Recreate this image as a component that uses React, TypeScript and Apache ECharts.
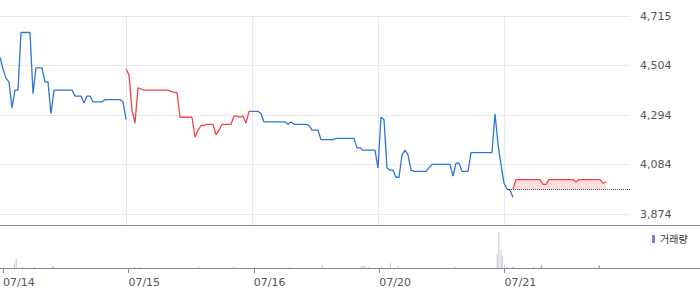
import React, { useEffect, useRef } from "react";
import * as echarts from "echarts";

// ---- data ----
const dayLabels = ["07/14", "07/15", "07/16", "07/20", "07/21"];
const SLOTS = 42; // price samples per trading day
const DAY_MINUTES = 390; // 09:00 - 15:30
const priceMin = 3874;
const priceMax = 4715;
const prevClose = 3980;

const day1 = [4540, 4490, 4450, 4435, 4325, 4400, 4400, 4645, 4645, 4645, 4645, 4385, 4495, 4495, 4495, 4435, 4435, 4300, 4400, 4400, 4400, 4400, 4400, 4400, 4400, 4375, 4375, 4375, 4345, 4375, 4375, 4350, 4350, 4350, 4350, 4360, 4360, 4360, 4360, 4360, 4360, 4350, 4275];
const day2 = [4490, 4465, 4315, 4260, 4410, 4405, 4400, 4400, 4400, 4400, 4400, 4400, 4400, 4400, 4400, 4395, 4390, 4390, 4285, 4285, 4285, 4285, 4285, 4200, 4230, 4250, 4250, 4255, 4255, 4255, 4210, 4230, 4255, 4255, 4255, 4255, 4290, 4290, 4285, 4290, 4260, 4310, 4310];
const day3 = [4310, 4310, 4310, 4300, 4265, 4265, 4265, 4265, 4265, 4265, 4265, 4265, 4255, 4265, 4255, 4255, 4255, 4255, 4255, 4250, 4230, 4230, 4230, 4190, 4190, 4190, 4190, 4190, 4195, 4195, 4195, 4195, 4195, 4195, 4195, 4155, 4155, 4145, 4145, 4145, 4145, 4145];
const day4 = [4070, 4285, 4275, 4070, 4060, 4060, 4030, 4030, 4125, 4145, 4125, 4060, 4055, 4055, 4055, 4055, 4055, 4070, 4085, 4085, 4085, 4085, 4085, 4085, 4085, 4035, 4090, 4090, 4055, 4055, 4055, 4135, 4135, 4135, 4135, 4135, 4135, 4135, 4135, 4300, 4170, 4085];
const day5Blue = [4005, 3980, 3975, 3945];
const day5RedStart = 3;
const day5Red = [3980, 4020, 4020, 4020, 4020, 4020, 4020, 4020, 4020, 4020, 4000, 4000, 4020, 4020, 4020, 4020, 4020, 4020, 4020, 4020, 4020, 4010, 4020, 4020, 4020, 4020, 4020, 4020, 4020, 4020, 4005, 4010];

// volume: [minute of day, shares]
const volDay1 = [[36, 43000], [41, 93000], [60, 13000], [98, 13000], [153, 13000], [157, 23000]];
const volDay2 = [[18, 13000], [35, 13000], [219, 13000], [327, 13000]];
const volDay3 = [[112, 13000], [213, 27000], [334, 17000], [340, 20000], [347, 20000], [357, 13000]];
const volDay4 = [[6, 13000], [35, 47000], [58, 23000], [236, 13000], [367, 143000], [372, 360000], [379, 183000], [383, 123000], [390, 33000]];
const volDay5 = [[8, 10000], [27, 10000], [91, 10000], [114, 27000], [294, 27000]];

const BLUE = "#2f74d8";
const RED = "#f5414b";
const GREY_BAR = "#c4c7cd";
const PURPLE = "#8b79c6";
const GRID = "#e9e9e9";
const AXIS = "#82868d";
const FILL = "#fcdfe1";
const FONT = '"DejaVu Sans", "Noto Sans CJK KR", sans-serif';

const toPts = (arr: number[], d: number, from = 0) =>
  arr.map((v, i) => [d * SLOTS + from + i, v - priceMin]);

export default function App() {
  const ref = useRef<HTMLDivElement>(null);
  useEffect(() => {
    const chart = echarts.init(ref.current!, null, { renderer: "svg" });
    const yInterval = (priceMax - priceMin) / 4;
    const totalX = SLOTS * 5;
    const slotCats = Array.from({ length: totalX + 1 }, (_, i) => String(i));
    const volumeDays = [volDay1, volDay2, volDay3, volDay4, volDay5];
    const volData = volumeDays.flatMap((arr, d) =>
      arr.map(([m, v]) => ({
        value: [d * SLOTS + (m * SLOTS) / DAY_MINUTES, v],
        itemStyle: d < 4 ? { color: GREY_BAR } : { color: PURPLE },
      }))
    );
    const lineCommon = {
      type: "line",
      xAxisIndex: 0,
      yAxisIndex: 0,
      showSymbol: false,
      symbol: "none",
      silent: true,
      emphasis: { disabled: true },
    };
    const redPts = toPts(day5Red, 4, day5RedStart);
    const baseY = prevClose - priceMin;
    chart.setOption({
      animation: false,
      textStyle: { fontFamily: FONT },
      grid: [
        { left: 0, top: 16, width: 630, height: 198 },
        { left: 0, top: 16, width: 630, height: 209 },
        { left: 0, top: 225, width: 630, height: 43 },
      ],
      legend: {
        left: 652,
        top: 234,
        padding: 0,
        itemWidth: 3,
        itemHeight: 8,
        data: [{ name: "거래량", icon: "rect", itemStyle: { color: PURPLE } }],
        textStyle: { fontSize: 10, color: "#333", fontFamily: FONT },
        selectedMode: false,
      },
      xAxis: [
        { gridIndex: 0, type: "category", data: slotCats, boundaryGap: false, show: false },
        {
          gridIndex: 1,
          type: "value",
          min: 0,
          max: totalX,
          interval: SLOTS,
          axisLine: { show: false },
          axisTick: { show: false },
          axisLabel: { show: false },
          splitLine: { show: true, showMinLine: false, showMaxLine: false, lineStyle: { color: GRID } },
        },
        {
          gridIndex: 2,
          type: "value",
          min: 0,
          max: totalX,
          interval: SLOTS,
          axisLine: { show: false },
          axisTick: { show: true, length: 5, lineStyle: { color: AXIS }, customValues: [0, 42, 84, 126, 168] },
          splitLine: { show: false },
          axisLabel: {
            align: "left",
            margin: 9,
            color: "#555",
            fontSize: 11,
            fontFamily: FONT,
            formatter: (v: number) => dayLabels[Math.round(v / SLOTS)] ?? "",
          },
        },
      ],
      yAxis: [
        {
          gridIndex: 0,
          type: "value",
          position: "right",
          min: 0,
          max: priceMax - priceMin,
          interval: yInterval,
          axisLine: { show: false },
          axisTick: { show: false },
          axisLabel: {
            margin: 10,
            color: "#555",
            fontSize: 11,
            fontFamily: FONT,
            formatter: (v: number) => Math.floor(v + priceMin + 1e-6).toLocaleString("en-US"),
          },
          splitLine: { show: true, lineStyle: { color: GRID } },
        },
        { gridIndex: 1, type: "value", show: false },
        { gridIndex: 2, type: "value", min: 0, max: 430000, show: false },
      ],
      series: [
        {
          type: "custom",
          name: "fill",
          xAxisIndex: 0,
          yAxisIndex: 0,
          silent: true,
          z: 1,
          data: redPts,
          encode: { x: 0, y: 1 },
          renderItem: (params: any, api: any) => {
            const i = params.dataIndex;
            if (i >= redPts.length - 1) return null;
            const a = redPts[i];
            const b = redPts[i + 1];
            const p0 = api.coord([a[0], a[1]]);
            const p1 = api.coord([b[0], b[1]]);
            const q1 = api.coord([b[0], baseY]);
            const q0 = api.coord([a[0], baseY]);
            return {
              type: "polygon",
              shape: { points: [p0, p1, q1, q0] },
              style: { fill: FILL, stroke: FILL, lineWidth: 0.6 },
            };
          },
        },
        { ...lineCommon, name: "d1", data: toPts(day1, 0), lineStyle: { color: BLUE, width: 1.3 } },
        { ...lineCommon, name: "d2", data: toPts(day2, 1), lineStyle: { color: RED, width: 1.3 } },
        {
          ...lineCommon,
          name: "d3",
          data: [...toPts(day3, 2), ...toPts(day4, 3), ...toPts(day5Blue, 4)],
          lineStyle: { color: BLUE, width: 1.3 },
        },
        {
          ...lineCommon,
          name: "d5",
          data: redPts,
          lineStyle: { color: RED, width: 1.3 },
          markLine: {
            silent: true,
            symbol: "none",
            label: { show: false },
            lineStyle: { color: "#444", type: "dotted", width: 1 },
            data: [[{ coord: [String(4 * SLOTS + 1), baseY] }, { coord: [String(totalX), baseY] }]],
          },
        },
        {
          type: "bar",
          name: "거래량",
          xAxisIndex: 2,
          yAxisIndex: 2,
          barWidth: 1,
          silent: true,
          itemStyle: { color: PURPLE },
          data: volData,
        },
      ],
      graphic: [
        { type: "line", silent: true, shape: { x1: 0, y1: 225.5, x2: 700, y2: 225.5 }, style: { stroke: AXIS, lineWidth: 1 } },
        { type: "line", silent: true, shape: { x1: 0, y1: 268.5, x2: 700, y2: 268.5 }, style: { stroke: AXIS, lineWidth: 1 } },
      ],
    });
    return () => chart.dispose();
  }, []);
  return <div ref={ref} style={{ position: "absolute", left: 0, top: 0, width: 700, height: 289 }} />;
}
